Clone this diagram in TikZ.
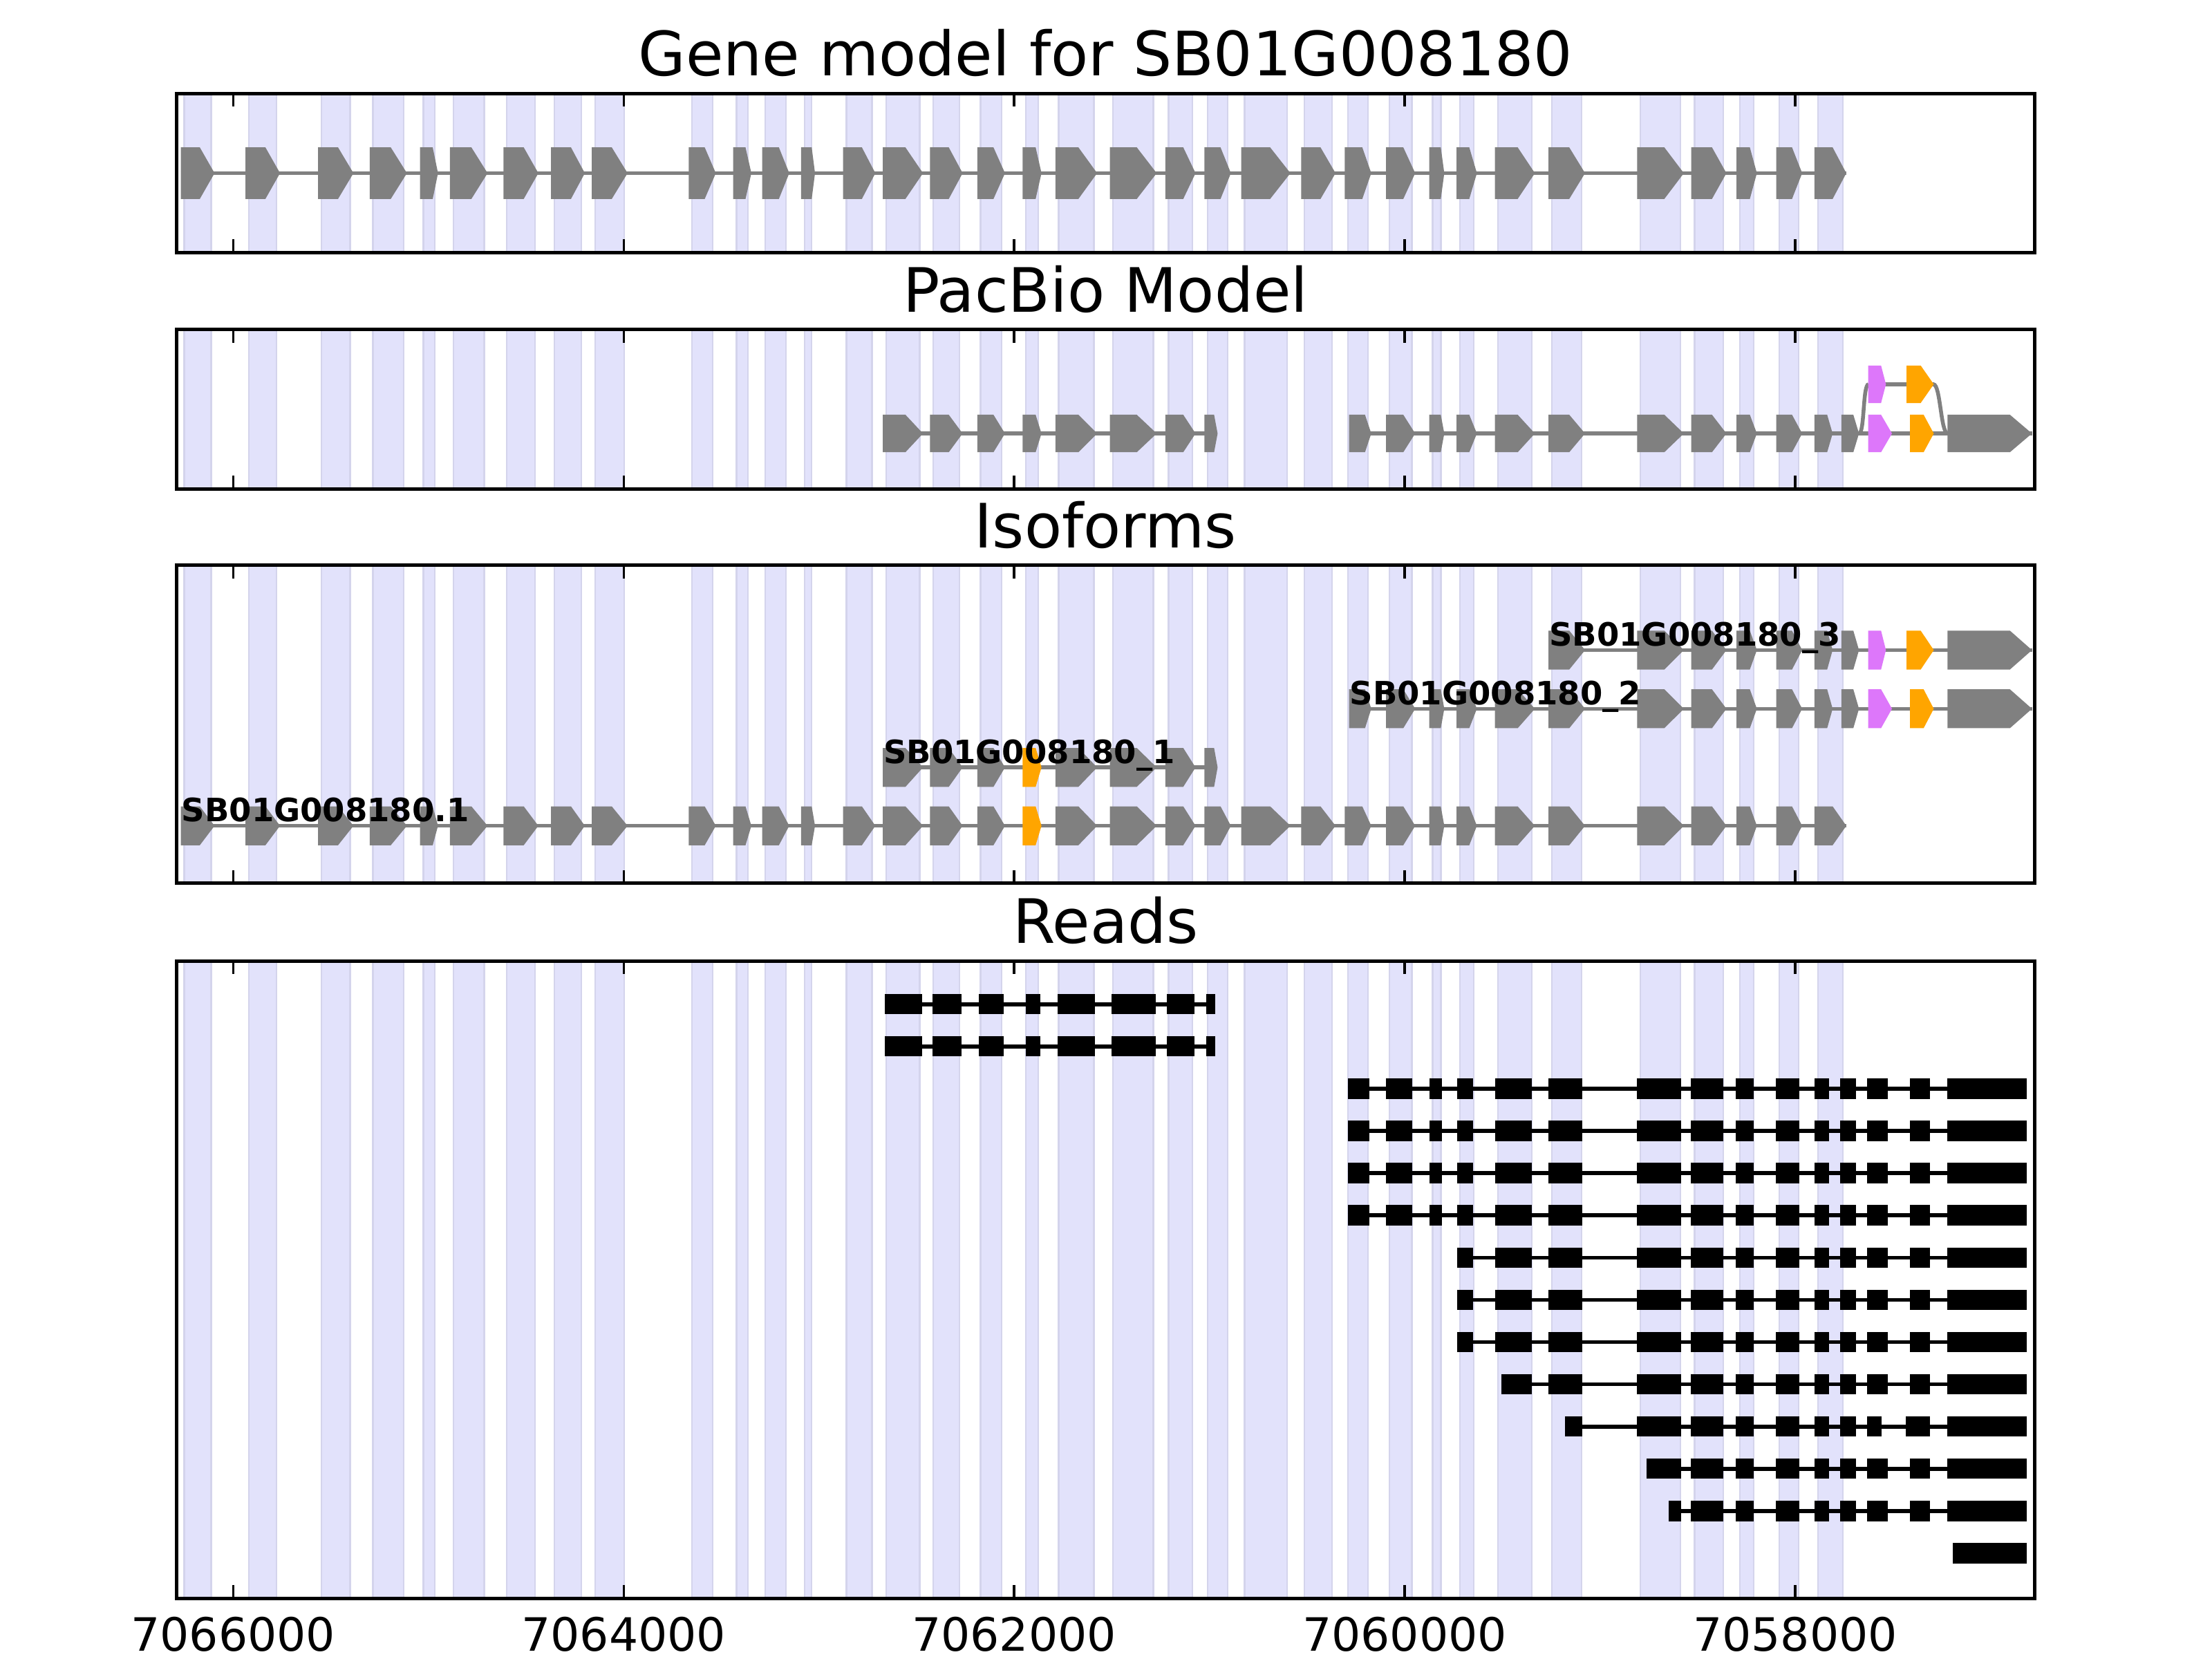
\documentclass[tikz,border=0pt]{standalone}
\usepackage{fontspec}
\setmainfont{DejaVu Sans}
\definecolor{exgray}{RGB}{128,128,128}
\definecolor{shade}{RGB}{226,226,251}
\definecolor{shadeedge}{RGB}{212,212,236}
\definecolor{mag}{RGB}{221,119,250}
\definecolor{orng}{RGB}{255,165,0}
\tikzset{
  intron/.style={draw=exgray, line width=1pt},
  readline/.style={draw=black, line width=1pt},
  panelframe/.style={draw=black, line width=0.9pt},
  tickmark/.style={draw=black, line width=0.6pt},
  shadeband/.style={fill=shade, draw=shadeedge, line width=0.4pt},
  paneltitle/.style={font=\fontsize{16}{19}\selectfont, anchor=base, inner sep=0pt},
  ticklabel/.style={font=\fontsize{12}{14}\selectfont, anchor=base, inner sep=0pt},
  isolabel/.style={font=\bfseries\fontsize{8.4}{10}\selectfont, anchor=base west, inner sep=0pt},
}
% exon pentagon: start, tip start, end, y, half height, colour
\newcommand\exonshape[6]{\fill[#6] (#1,{#4-#5}) -- (#2,{#4-#5}) -- (#3,#4) -- (#2,{#4+#5}) -- (#1,{#4+#5}) -- cycle;}
\newcommand\exonrow[4]{\foreach \xs/\xt/\xe in #1 {\exonshape{\xs}{\xt}{\xe}{#2}{#3}{#4}}}
\newcommand\shadelist[1]{\foreach \xs/\xt/\xe in #1 {\foreach \ptop/\pbot in {66.2/179.2, 233.6/346.6, 400.8/626.4, 681.4/1133.4} {\filldraw[shadeband] ({\xs+0.017},\ptop) rectangle ({\xe-0.017},\pbot);}}}
\newcommand\readrow[4]{\ifx#3\relax\else\draw[readline] (#3,#1) -- (#4,#1);\fi
  \foreach \xs/\xe in #2 {\fill[black] (\xs,{#1-7.2}) rectangle (\xe,{#1+7.2});}}
% gene model exons
\def\gmA{-0.268/-0.171/-0.0955, 0.063/0.165/0.240, 0.435/0.537/0.616, 0.699/0.807/0.890, 0.957/1.022/1.049, 1.110/1.220/1.303, 1.384/1.488/1.563, 1.628/1.730/1.801, 1.837/1.939/2.020, 2.333/2.415/2.472, 2.561/2.624/2.654, 2.709/2.795/2.848, 2.909/2.963/2.980, 3.124/3.220/3.289}
\def\gmB{3.327/3.443/3.533, 3.569/3.665/3.736, 3.811/3.894/3.953}
\def\gmEE{4.043/4.110/4.140}
\def\gmC{4.211/4.329/4.425, 4.490/4.628/4.730, 4.774/4.866/4.929}
\def\gmD{4.974/5.057/5.110, 5.163/5.311/5.415, 5.470/5.569/5.646, 5.693/5.783/5.829}
\def\gmE{5.905/5.993/6.054, 6.126/6.185/6.203, 6.266/6.331/6.370, 6.462/6.579/6.667}
\def\gmF{6.737/6.843/6.924, 7.191/7.330/7.430, 7.468/7.574/7.648, 7.700/7.768/7.804, 7.903/7.984/8.036}
\def\gmG{8.099/8.192/8.262}
% pacbio extra
\def\pbP{4.974/5.024/5.042}
\def\pbS{5.715/5.797/5.829}
\def\pbX{8.099/8.164/8.192, 8.237/8.298/8.327}
\def\pbM{8.374/8.440/8.496}
\def\pbO{8.588/8.658/8.710}
\def\pbMu{8.374/8.440/8.465}
\def\pbOu{8.571/8.643/8.710}
\def\pbL{8.780/9.100/9.213}
% reads
\def\rdA{3.338/3.529, 3.581/3.729, 3.820/3.946, 4.058/4.133, 4.221/4.415, 4.500/4.724, 4.782/4.923, 4.985/5.031}
\def\rdTail{7.191/7.415, 7.467/7.631, 7.697/7.787, 7.901/8.021, 8.099/8.175, 8.232/8.310, 8.369/8.473, 8.587/8.691, 8.779/9.186}
\def\rdFull{5.709/5.820, 5.903/6.040, 6.128/6.192, 6.270/6.350, 6.464/6.651, 6.736/6.911}
\def\rdC{6.270/6.350, 6.464/6.651, 6.736/6.911}
\def\rdD{6.495/6.651, 6.736/6.911}
\def\rdE{6.821/6.911, 7.191/7.415, 7.467/7.631, 7.697/7.787, 7.901/8.021, 8.099/8.175, 8.232/8.310, 8.369/8.443, 8.568/8.691, 8.779/9.186}
\def\rdF{7.238/7.415, 7.467/7.631, 7.697/7.787, 7.901/8.021, 8.099/8.175, 8.232/8.310, 8.369/8.473, 8.587/8.691, 8.779/9.186}
\def\rdG{7.354/7.415, 7.467/7.631, 7.697/7.787, 7.901/8.021, 8.099/8.175, 8.232/8.310, 8.369/8.473, 8.587/8.691, 8.779/9.186}
\def\rdH{8.809/9.186}
\begin{document}
\begin{tikzpicture}[x=1.79355cm, y=-0.0129592cm]
\path[use as bounding box, fill=white] (-1.19436,0) rectangle (10.13512,1176);
% shaded exon bands
\shadelist{\gmA}\shadelist{\gmB}\shadelist{\gmEE}\shadelist{\gmC}
\shadelist{\gmD}\shadelist{\gmE}\shadelist{\gmF}\shadelist{\gmG}
% ---- panel 1: gene model
\draw[intron] (-0.268,122.8) -- (8.262,122.8);
\exonrow{\gmA}{122.8}{18.3}{exgray}\exonrow{\gmB}{122.8}{18.3}{exgray}
\exonrow{\gmEE}{122.8}{18.3}{exgray}\exonrow{\gmC}{122.8}{18.3}{exgray}
\exonrow{\gmD}{122.8}{18.3}{exgray}\exonrow{\gmE}{122.8}{18.3}{exgray}
\exonrow{\gmF}{122.8}{18.3}{exgray}\exonrow{\gmG}{122.8}{18.3}{exgray}
% ---- panel 2: PacBio model
\draw[intron] (3.327,307.4) -- (5.042,307.4);
\draw[intron] (5.715,307.4) -- (9.213,307.4);
\draw[intron] (8.374,272.5) -- (8.710,272.5);
\draw[intron] (8.327,307.4) .. controls (8.356,307.4) and (8.346,272.5) .. (8.376,272.5);
\draw[intron] (8.708,272.5) .. controls (8.745,272.5) and (8.745,307.4) .. (8.782,307.4);
\exonrow{\gmB}{307.4}{13.3}{exgray}\exonrow{\gmEE}{307.4}{13.3}{exgray}
\exonrow{\gmC}{307.4}{13.3}{exgray}\exonrow{\pbP}{307.4}{13.3}{exgray}
\exonrow{\pbS}{307.4}{13.3}{exgray}\exonrow{\gmE}{307.4}{13.3}{exgray}
\exonrow{\gmF}{307.4}{13.3}{exgray}\exonrow{\pbX}{307.4}{13.3}{exgray}
\exonrow{\pbM}{307.4}{13.3}{mag}\exonrow{\pbO}{307.4}{13.3}{orng}
\exonrow{\pbL}{307.4}{13.3}{exgray}
\exonrow{\pbMu}{272.5}{13.3}{mag}\exonrow{\pbOu}{272.5}{13.3}{orng}
% ---- panel 3: isoforms
% _3
\draw[intron] (6.737,461.0) -- (9.213,461.0);
\exonrow{\gmF}{461.0}{13.8}{exgray}\exonrow{\pbX}{461.0}{13.8}{exgray}
\exonrow{\pbMu}{461.0}{13.8}{mag}\exonrow{\pbOu}{461.0}{13.8}{orng}
\exonrow{\pbL}{461.0}{13.8}{exgray}
% _2
\draw[intron] (5.715,502.6) -- (9.213,502.6);
\exonrow{\pbS}{502.6}{13.8}{exgray}\exonrow{\gmE}{502.6}{13.8}{exgray}
\exonrow{\gmF}{502.6}{13.8}{exgray}\exonrow{\pbX}{502.6}{13.8}{exgray}
\exonrow{\pbM}{502.6}{13.8}{mag}\exonrow{\pbO}{502.6}{13.8}{orng}
\exonrow{\pbL}{502.6}{13.8}{exgray}
% _1
\draw[intron] (3.327,544.2) -- (5.042,544.2);
\exonrow{\gmB}{544.2}{13.8}{exgray}\exonrow{\gmEE}{544.2}{13.8}{orng}
\exonrow{\gmC}{544.2}{13.8}{exgray}\exonrow{\pbP}{544.2}{13.8}{exgray}
% .1
\draw[intron] (-0.268,585.6) -- (8.262,585.6);
\exonrow{\gmA}{585.6}{13.8}{exgray}\exonrow{\gmB}{585.6}{13.8}{exgray}
\exonrow{\gmEE}{585.6}{13.8}{orng}\exonrow{\gmC}{585.6}{13.8}{exgray}
\exonrow{\gmD}{585.6}{13.8}{exgray}\exonrow{\gmE}{585.6}{13.8}{exgray}
\exonrow{\gmF}{585.6}{13.8}{exgray}\exonrow{\gmG}{585.6}{13.8}{exgray}
\node[isolabel] (lab3) at (6.737,458.0) {SB01G008180\_3};
\node[isolabel] (lab2) at (5.715,499.6) {SB01G008180\_2};
\node[isolabel] (lab1) at (3.327,541.2) {SB01G008180\_1};
\node[isolabel] (lab0) at (-0.268,582.6) {SB01G008180.1};
% ---- panel 4: reads
\readrow{712.1}{\rdA}{3.338}{5.031}
\readrow{742.0}{\rdA}{3.338}{5.031}
\foreach \ry in {772.0, 801.9, 831.9, 861.8} {\readrow{\ry}{\rdFull}{5.709}{9.186}\readrow{\ry}{\rdTail}{\relax}{}}
\foreach \ry in {891.8, 921.7, 951.7} {\readrow{\ry}{\rdC}{6.270}{9.186}\readrow{\ry}{\rdTail}{\relax}{}}
\readrow{981.6}{\rdD}{6.495}{9.186}\readrow{981.6}{\rdTail}{\relax}{}
\readrow{1011.6}{\rdE}{6.821}{9.186}
\readrow{1041.5}{\rdF}{7.238}{9.186}
\readrow{1071.5}{\rdG}{7.354}{9.186}
\readrow{1101.4}{\rdH}{\relax}{}
% ---- frames and ticks
\foreach \ptop/\pbot in {66.2/179.2, 233.6/346.6, 400.8/626.4, 681.4/1133.4} {
  \draw[panelframe] (-0.289,\ptop) rectangle (9.2254,\pbot);
  \foreach \u in {0,2,4,6,8} {
    \draw[tickmark] (\u,\ptop) -- ++(0,9.5);
    \draw[tickmark] (\u,\pbot) -- ++(0,-9.5);
  }
}
% ---- titles and tick labels
\node[paneltitle] (t1) at (4.4682,53.7) {Gene model for SB01G008180};
\node[paneltitle] (t2) at (4.4682,221.1) {PacBio Model};
\node[paneltitle] (t3) at (4.4682,388.3) {Isoforms};
\node[paneltitle] (t4) at (4.4682,668.9) {Reads};
\node[ticklabel] (x0) at (0,1170.6) {7066000};
\node[ticklabel] (x2) at (2,1170.6) {7064000};
\node[ticklabel] (x4) at (4,1170.6) {7062000};
\node[ticklabel] (x6) at (6,1170.6) {7060000};
\node[ticklabel] (x8) at (8,1170.6) {7058000};
\end{tikzpicture}
\end{document}
